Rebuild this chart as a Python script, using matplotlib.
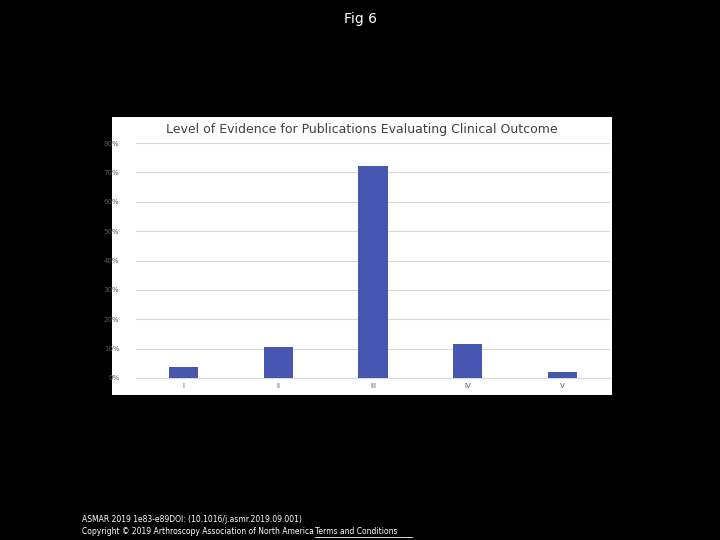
import matplotlib.pyplot as plt

levels = ["I", "II", "III", "IV", "V"]
shares = [3.6, 10.6, 72.2, 11.6, 2.0]
yticks = [0, 10, 20, 30, 40, 50, 60, 70, 80]

fig = plt.figure(figsize=(7.2, 5.4), dpi=100, facecolor='black')

fig.text(0.5, 0.965, "Fig 6", color='white', ha='center', va='center', fontsize=10)

# white chart panel behind the plot
panel = fig.add_axes([0.1556, 0.2685, 0.694, 0.515], zorder=0)
panel.set_facecolor('white')
panel.set_xticks([])
panel.set_yticks([])
for s in panel.spines.values():
    s.set_visible(False)
panel.text(0.5, 0.955, "Level of Evidence for Publications Evaluating Clinical Outcome",
           color='#404040', ha='center', va='center', fontsize=9, transform=panel.transAxes)

ax = fig.add_axes([0.189, 0.3, 0.658, 0.435], zorder=1)
ax.patch.set_alpha(0)
ax.bar(range(len(levels)), shares, width=0.31, color='#4756b0', zorder=3)
ax.set_xlim(-0.5, 4.5)
ax.set_ylim(0, 80)
ax.set_yticks(yticks)
ax.set_yticklabels([f"{v}%" for v in yticks])
ax.set_xticks(range(len(levels)))
ax.set_xticklabels(levels)
ax.grid(axis='y', color='#d9d9d9', linewidth=0.8, zorder=0)
for s in ax.spines.values():
    s.set_visible(False)
ax.spines['bottom'].set_visible(True)
ax.spines['bottom'].set_color('#d9d9d9')
ax.tick_params(length=0, labelsize=5, colors='#595959')
ax.tick_params(axis='y', pad=12)

fig.text(0.114, 0.038, "ASMAR 2019 1e83-e89DOI: (10.1016/j.asmr.2019.09.001)",
         color='white', fontsize=5.5, va='center')
fig.text(0.114, 0.015, "Copyright © 2019 Arthroscopy Association of North America",
         color='white', fontsize=5.5, va='center')
fig.text(0.438, 0.015, "Terms and Conditions", color='white', fontsize=5.5, va='center')
fig.add_artist(plt.Line2D([0.438, 0.572], [0.005, 0.005], color='white', linewidth=0.6,
                          transform=fig.transFigure))

fig.savefig("out.png", dpi=100, facecolor='black')
